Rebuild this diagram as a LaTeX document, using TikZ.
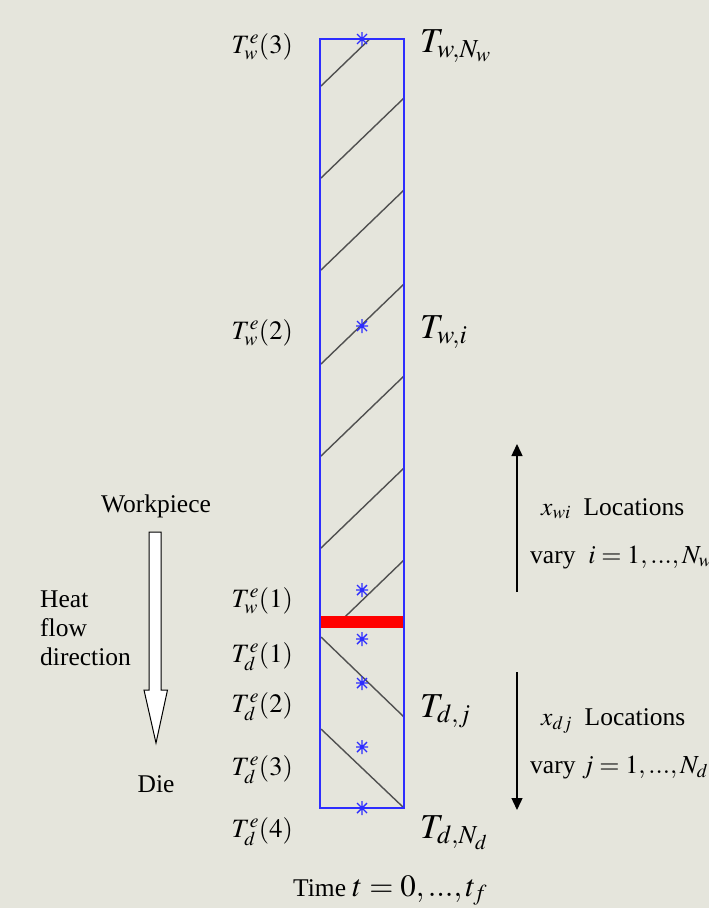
\documentclass[tikz,border=0pt]{standalone}
\usepackage{mathptmx}
\usepackage[no-math]{fontspec}
\setmainfont{Liberation Serif}
\newfontfamily\tserif{Liberation Serif}
\usetikzlibrary{arrows.meta}
\definecolor{bgc}{RGB}{229,229,220}
\definecolor{rblue}{RGB}{45,45,255}
\definecolor{hgray}{RGB}{80,80,80}
\tikzset{
  txt/.style={inner sep=0pt,font=\tserif\fontsize{25.5}{30}\selectfont},
  lab/.style={inner sep=0pt,font=\tserif\fontsize{26.5}{30}\selectfont},
  bigT/.style={inner sep=0pt,font=\tserif\fontsize{35}{40}\selectfont},
  hatch/.style={hgray,line width=1.4pt},
  astk/.pic={\draw[rblue,line width=1.4pt] (-6,0)--(6,0) (0,-7)--(0,7) (-5,-5)--(5,5) (-5,5)--(5,-5);},
  varr/.style={line width=1.4pt,-{Triangle[width=11pt,length=12pt]}}
}
\begin{document}
\begin{tikzpicture}[x=1pt,y=-1pt]
\fill[bgc] (0,0) rectangle (709,908);
\useasboundingbox (0,0) rectangle (709,908);
% bar geometry
\coordinate (tl) at (320,39);
\coordinate (br) at (404,808);
\begin{scope}
  \clip (320,39) rectangle (404,616);
  \foreach \y in {6,98,190,284,376,468,560}
    \draw[hatch] (404,\y) -- (321,\y+80);
\end{scope}
\draw[hatch] (321,637) -- (404,717);
\draw[hatch] (321,729) -- (404,808);
\fill[red] (320,616) rectangle (404,628);
\draw[rblue,line width=2pt] (tl) rectangle (br);
\foreach \y in {39,326,590,639,683,747,808}
  \pic at (362,\y) {astk};
% left labels
\node[lab,anchor=base east] (we3) at (293,53) {$T_w^e(3)$};
\node[lab,anchor=base east] (we2) at (293,339) {$T_w^e(2)$};
\node[lab,anchor=base east] (we1) at (293,607) {$T_w^e(1)$};
\node[lab,anchor=base east] (de1) at (293,662) {$T_d^e(1)$};
\node[lab,anchor=base east] (de2) at (293,712) {$T_d^e(2)$};
\node[lab,anchor=base east] (de3) at (293,775) {$T_d^e(3)$};
\node[lab,anchor=base east] (de4) at (293,837) {$T_d^e(4)$};
% right labels
\node[bigT,anchor=base west] (twn) at (420,52) {$T_{w,N_w}$};
\node[bigT,anchor=base west] (twi) at (420,338) {$T_{w,i}$};
\node[bigT,anchor=base west] (tdj) at (420,717) {$T_{d,j}$};
\node[bigT,anchor=base west] (tdn) at (420,838) {$T_{d,N_d}$};
% time
\node[txt,anchor=base west] (time) at (293,896) {Time \fontsize{31}{36}\selectfont$t=0,...,t_f$};
% right arrows
\coordinate (ua0) at (517,592);
\coordinate (ua1) at (517,444);
\coordinate (da0) at (517,672);
\coordinate (da1) at (517,810);
\draw[varr] (ua0) -- (ua1);
\draw[varr] (da0) -- (da1);
\node[txt,anchor=base west] (xw) at (541,515) {$x_{wi}$\ \ Locations};
\node[txt,anchor=base west] (vw) at (530,563) {vary\ \ \fontsize{26}{30}\selectfont$i=1,...,N_w$};
\node[txt,anchor=base west] (xd) at (541,725) {$x_{dj}$\ \ Locations};
\node[txt,anchor=base west] (vd) at (530,773) {vary\ \fontsize{26}{30}\selectfont$j=1,...,N_d$};
% left hollow arrow
\node[txt,anchor=base] (wp) at (156,512) {Workpiece};
\node[txt,anchor=base] (die) at (156,792) {Die};
\node[txt,anchor=base west] (h1) at (40,607) {Heat};
\node[txt,anchor=base west] (h2) at (40,636) {flow};
\node[txt,anchor=base west] (h3) at (40,665) {direction};
\draw[black,line width=1pt,fill=white] (149,532) -- (161,532) -- (161,690) -- (167.5,690) -- (156,743) -- (144,690) -- (149,690) -- cycle;
\end{tikzpicture}
\end{document}
